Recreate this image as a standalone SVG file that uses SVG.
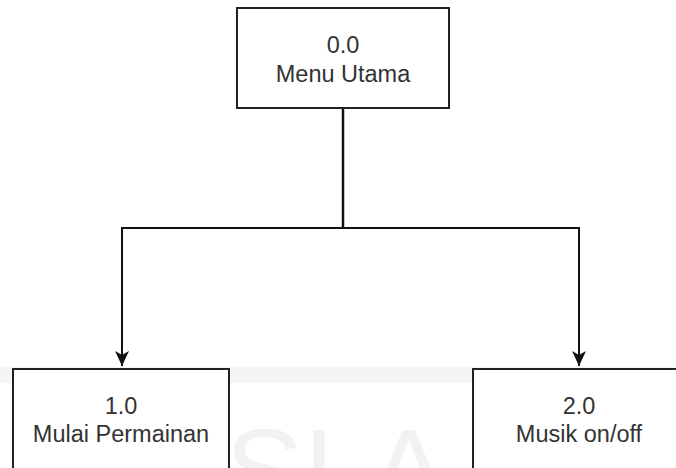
<svg xmlns="http://www.w3.org/2000/svg" width="676" height="468" viewBox="0 0 676 468">
  <defs>
    <style>
      .box { fill: #ffffff; stroke: #222222; stroke-width: 2; }
      .lbl { font-family: "Liberation Sans", Arial, Helvetica, sans-serif; font-size: 23.5px; fill: #333333; text-anchor: middle; }
      .wire { fill: none; stroke: #111111; stroke-width: 2; }
      .wm { font-family: "Liberation Sans", Arial, sans-serif; font-size: 118px; fill: #f2f2f2; }
    </style>
    <marker id="arrow" viewBox="0 0 16 16" refX="15" refY="8" markerWidth="16" markerHeight="16" markerUnits="userSpaceOnUse" orient="auto">
      <path d="M15,8 L0,1 L4,8 L0,15 Z" fill="#111111"/>
    </marker>
  </defs>
  <rect width="676" height="468" fill="#ffffff"/>
  <g id="watermark">
    <rect x="0" y="367" width="676" height="16" fill="#f5f5f5"/>
    <text class="wm" x="225" y="512">SLA</text>
  </g>
  <g id="connectors">
    <path class="wire" style="stroke-width:2.5" d="M343,108 L343,228"/>
    <path class="wire" d="M343,228 L122,228 L122,366" marker-end="url(#arrow)"/>
    <path class="wire" d="M343,228 L579,228 L579,366" marker-end="url(#arrow)"/>
  </g>
  <g id="node-0">
    <rect class="box" x="237" y="8" width="212" height="100"/>
    <text class="lbl" x="343" y="53">0.0</text>
    <text class="lbl" x="343" y="82">Menu Utama</text>
  </g>
  <g id="node-1">
    <rect class="box" x="13" y="369" width="216" height="110"/>
    <text class="lbl" x="121" y="414">1.0</text>
    <text class="lbl" x="121" y="442">Mulai Permainan</text>
  </g>
  <g id="node-2">
    <rect class="box" x="473" y="369" width="216" height="110"/>
    <text class="lbl" x="579" y="414">2.0</text>
    <text class="lbl" x="579" y="442">Musik on/off</text>
  </g>
</svg>
